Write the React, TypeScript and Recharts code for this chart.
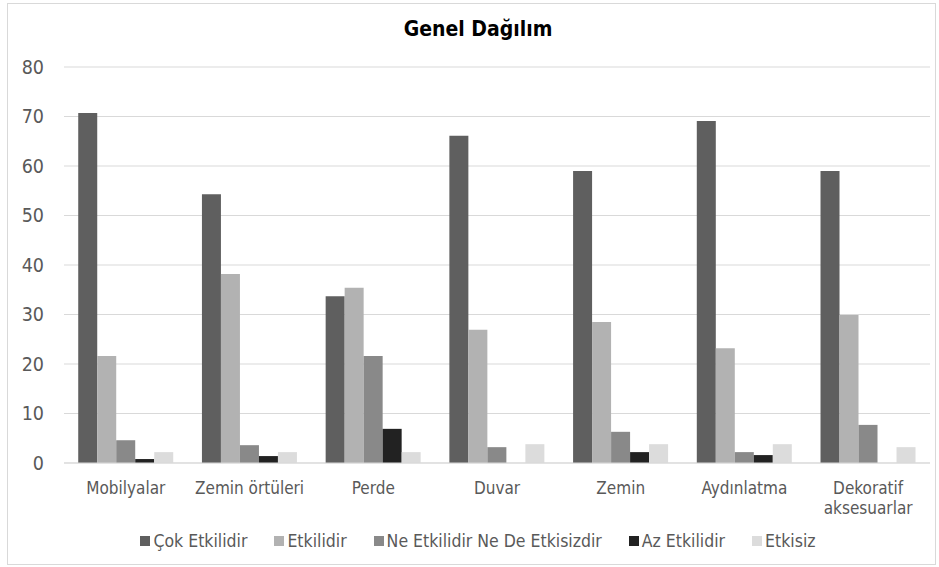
import React from "react";
import { BarChart, Bar, XAxis, YAxis, CartesianGrid } from "recharts";

const categories = ["Mobilyalar", "Zemin örtüleri", "Perde", "Duvar", "Zemin", "Aydınlatma", "Dekoratif\naksesuarlar"];
const cokEtkilidir = [70.7, 54.3, 33.7, 66.1, 59.0, 69.1, 59.0];
const etkilidir = [21.6, 38.2, 35.4, 26.9, 28.5, 23.2, 29.9];
const neEtkilidir = [4.6, 3.6, 21.6, 3.2, 6.3, 2.2, 7.7];
const azEtkilidir = [0.8, 1.4, 6.9, 0, 2.2, 1.6, 0];
const etkisiz = [2.2, 2.2, 2.2, 3.8, 3.8, 3.8, 3.2];
const yTicks = [0, 10, 20, 30, 40, 50, 60, 70, 80];

const seriesNames = ["Çok Etkilidir", "Etkilidir", "Ne Etkilidir Ne De Etkisizdir", "Az Etkilidir", "Etkisiz"];
const seriesKeys = ["cok", "etk", "ne", "az", "etkisiz"];
const seriesColors = ["#5f5f5f", "#b2b2b2", "#898989", "#222222", "#dcdcdc"];

const data = categories.map((c, i) => ({
  name: c,
  cok: cokEtkilidir[i],
  etk: etkilidir[i],
  ne: neEtkilidir[i],
  az: azEtkilidir[i],
  etkisiz: etkisiz[i],
}));

const FONT = "'DejaVu Sans Condensed', 'DejaVu Sans', sans-serif";

const XTick = (props: any) => {
  const { x, y, payload } = props;
  const lines = String(payload.value).split("\n");
  return (
    <g transform={`translate(${x},${y})`}>
      {lines.map((l, i) => (
        <text key={i} x={0} y={0} dy={23 + i * 20} textAnchor="middle" fill="#595959" fontSize={17} fontFamily={FONT}>
          {l}
        </text>
      ))}
    </g>
  );
};

export default function App() {
  return (
    <div style={{ position: "absolute", left: 0, top: 0, width: 939, height: 567, background: "#fff", overflow: "hidden" }}>
      <div style={{ position: "absolute", left: 7, top: 3, width: 929, height: 562, border: "1px solid #d9d9d9", boxSizing: "border-box" }} />
      <div style={{ position: "absolute", left: 0, top: 17, width: 956, textAlign: "center", fontFamily: FONT, fontWeight: "bold", fontSize: 21, color: "#000" }}>
        Genel Dağılım
      </div>
      <div style={{ position: "absolute", left: 0, top: 0 }}>
        <BarChart
          width={939}
          height={567}
          data={data}
          margin={{ top: 67, right: 9, bottom: 64, left: 14 }}
          barGap={0}
          barCategoryGap="11.5%"
        >
          <CartesianGrid vertical={false} stroke="#d9d9d9" />
          <XAxis
            dataKey="name"
            tick={<XTick />}
            tickLine={false}
            axisLine={{ stroke: "#d9d9d9" }}
            interval={0}
            height={40}
          />
          <YAxis
            domain={[0, 80]}
            ticks={yTicks}
            width={50}
            tickLine={false}
            axisLine={false}
            tick={{ fill: "#595959", fontSize: 19.5, fontFamily: FONT }}
            tickMargin={14}
          />
          {seriesKeys.map((k, i) => (
            <Bar key={k} dataKey={k} name={seriesNames[i]} fill={seriesColors[i]} isAnimationActive={false} />
          ))}
        </BarChart>
      </div>
      <div style={{ position: "absolute", left: 0, top: 530, width: 956, display: "flex", justifyContent: "center", gap: 27, fontFamily: FONT, fontSize: 17.5, color: "#595959", lineHeight: "22px" }}>
        {seriesNames.map((n, i) => (
          <div key={n} style={{ display: "flex", alignItems: "center" }}>
            <span style={{ display: "inline-block", width: 10, height: 10, background: seriesColors[i], marginRight: 3 }} />
            <span>{n}</span>
          </div>
        ))}
      </div>
    </div>
  );
}
